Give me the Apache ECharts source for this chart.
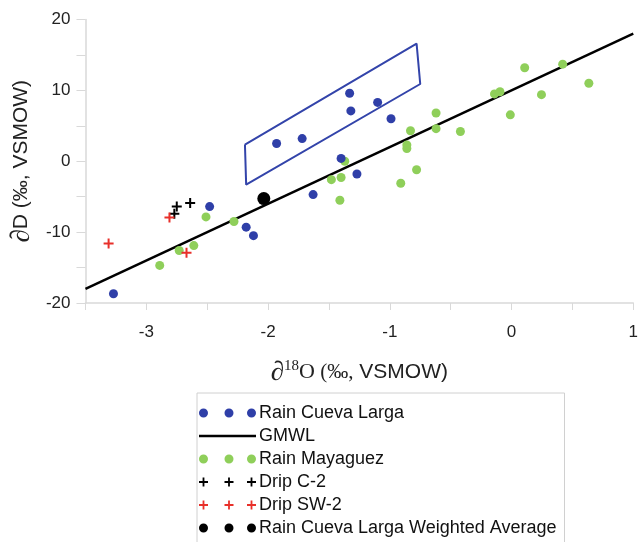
<!DOCTYPE html>
<html><head><meta charset="utf-8">
<script src="https://cdn.jsdelivr.net/npm/echarts@6/dist/echarts.min.js"></script>
<style>html,body{margin:0;padding:0;background:#fff}#c{width:641px;height:542px}</style>
</head><body><div id="c"></div>
<script>
// ---- data (δ18O, δD) ----
const rainCuevaLarga = [
  [-3.27,-18.7],[-2.48,-6.4],[-2.18,-9.3],[-2.12,-10.5],[-1.93,2.5],[-1.72,3.2],
  [-1.63,-4.7],[-1.33,9.6],[-1.32,7.1],[-1.10,8.3],[-0.99,6.0],[-1.40,0.4],[-1.27,-1.8]
];
const rainMayaguez = [
  [-2.89,-14.7],[-2.73,-12.6],[-2.61,-11.9],[-2.51,-7.85],[-2.28,-8.5],
  [-1.37,0.0],[-1.48,-2.6],[-1.40,-2.3],[-1.41,-5.5],[-0.91,-3.1],[-0.78,-1.2],
  [-0.86,2.3],[-0.86,1.8],[-0.83,4.3],[-0.62,6.8],[-0.62,4.6],[-0.42,4.2],
  [-0.14,9.5],[-0.095,9.8],[-0.01,6.55],[0.108,13.2],[0.246,9.4],[0.42,13.7],[0.635,11.0]
];
const dripC2 = [[-2.75,-6.4],[-2.77,-7.4],[-2.64,-5.9]];
const dripSW2 = [[-3.31,-11.6],[-2.81,-7.95],[-2.67,-12.9]];
const weightedAvg = [[-2.035,-5.27]];
const gmwl = [[-3.5,-18],[1,18]];
const boxOutline = [[-2.19,2.36],[-0.78,16.6],[-0.75,10.9],[-2.18,-3.3],[-2.19,2.36]];
const legendNames = ['Rain Cueva Larga','GMWL','Rain Mayaguez','Drip C-2','Drip SW-2','Rain Cueva Larga Weighted Average'];

const BLUE='#2f3fa8', GREEN='#8fcf5a', RED='#e8302a', BLACK='#000';
const FONT="'Liberation Sans', Arial, sans-serif";
const SERIF="'Liberation Serif', 'Times New Roman', serif";
const plus='path://M4,0h2v4h4v2h-4v4h-2v-4h-4v-2h4z';
function dots(){let p='path://';[4.5,30,52.5].forEach(c=>{p+=`M${c-4.5},4.5a4.5,4.5 0 1,0 9,0a4.5,4.5 0 1,0 -9,0z`;});return p;}
function pluses(){let p='path://';[4.5,30,52.5].forEach(c=>{p+=`M${c-4.5},3.6h9v1.8h-9zM${c-0.9},0h1.8v9h-1.8z`;});return p;}
const lineIcon='path://M0,0M0,3.3h57v2.4h-57zM57,9';
const legendIcons = {'Rain Cueva Larga':dots(),'GMWL':lineIcon,'Rain Mayaguez':dots(),
  'Drip C-2':pluses(),'Drip SW-2':pluses(),'Rain Cueva Larga Weighted Average':dots()};

const chart = echarts.init(document.getElementById('c'));
chart.setOption({
  animation:false,
  textStyle:{fontFamily:FONT},
  grid:{left:83.3,right:3.5,top:19.5,bottom:239,containLabel:false},
  xAxis:{type:'value',min:-3.5,max:1,interval:0.5,
    axisLine:{onZero:false,lineStyle:{color:'#d9d9d9',width:1.5}},
    axisTick:{show:true,length:7,lineStyle:{color:'#d9d9d9'}},
    splitLine:{show:false},
    axisLabel:{margin:21,fontSize:17,color:'#222',fontFamily:FONT,
      formatter:v=>Number.isInteger(v)?String(v):''},
    name:'{d|∂}{s|18}{o|O}{p| (‰,}{t| VSMOW)}',nameLocation:'middle',nameGap:56,
    nameTextStyle:{rich:{
      d:{fontFamily:SERIF,fontSize:27,color:'#222'},
      s:{fontFamily:SERIF,fontSize:15,color:'#222',verticalAlign:'top',padding:[0,0,9,0]},
      o:{fontFamily:SERIF,fontSize:22,color:'#222'},
      p:{fontFamily:SERIF,fontSize:21,color:'#222'},
      t:{fontFamily:FONT,fontSize:21,color:'#222'}}}
  },
  yAxis:{type:'value',min:-20,max:20,interval:5,
    axisLine:{show:true,onZero:false,lineStyle:{color:'#d9d9d9',width:1.5}},
    axisTick:{show:true,length:9,lineStyle:{color:'#d9d9d9'}},
    splitLine:{show:false},
    axisLabel:{margin:15,fontSize:17,color:'#222',fontFamily:FONT,
      formatter:v=>v%10===0?String(v):''},
    name:'{d|∂}{t|D (‰, VSMOW)}',nameLocation:'middle',nameGap:49,nameRotate:90,
    nameTextStyle:{rich:{
      d:{fontFamily:SERIF,fontSize:27,color:'#222'},
      t:{fontFamily:FONT,fontSize:21,color:'#222'}}}
  },
  legend:{orient:'vertical',left:197,top:393,height:200,
    data:legendNames.map(n=>({name:n,icon:legendIcons[n]})),
    itemWidth:57,itemHeight:9,itemGap:5,
    padding:[11,8,20,2],borderColor:'#d0d0d0',borderWidth:1,
    textStyle:{fontSize:18,color:'#111',fontFamily:FONT,padding:[0,0,0,-2]},
    selectedMode:false},
  series:[
    {name:'GMWL',type:'line',data:gmwl,symbol:'none',z:2,
      lineStyle:{color:BLACK,width:2.5},itemStyle:{color:BLACK}},
    {name:'box',type:'line',data:boxOutline,symbol:'none',z:3,
      lineStyle:{color:'#3344aa',width:2},itemStyle:{color:'#3344aa'}},
    {name:'Rain Mayaguez',type:'scatter',data:rainMayaguez,symbol:'circle',symbolSize:9,z:4,
      itemStyle:{color:GREEN,opacity:1}},
    {name:'Rain Cueva Larga',type:'scatter',data:rainCuevaLarga,symbol:'circle',symbolSize:9,z:5,
      itemStyle:{color:BLUE,opacity:1}},
    {name:'Drip C-2',type:'scatter',data:dripC2,symbol:plus,symbolSize:10,z:5,
      itemStyle:{color:BLACK,opacity:1}},
    {name:'Drip SW-2',type:'scatter',data:dripSW2,symbol:plus,symbolSize:10,z:5,
      itemStyle:{color:RED,opacity:1}},
    {name:'Rain Cueva Larga Weighted Average',type:'scatter',data:weightedAvg,symbol:'circle',symbolSize:13,z:6,
      itemStyle:{color:BLACK,opacity:1}}
  ]
});
</script></body></html>
